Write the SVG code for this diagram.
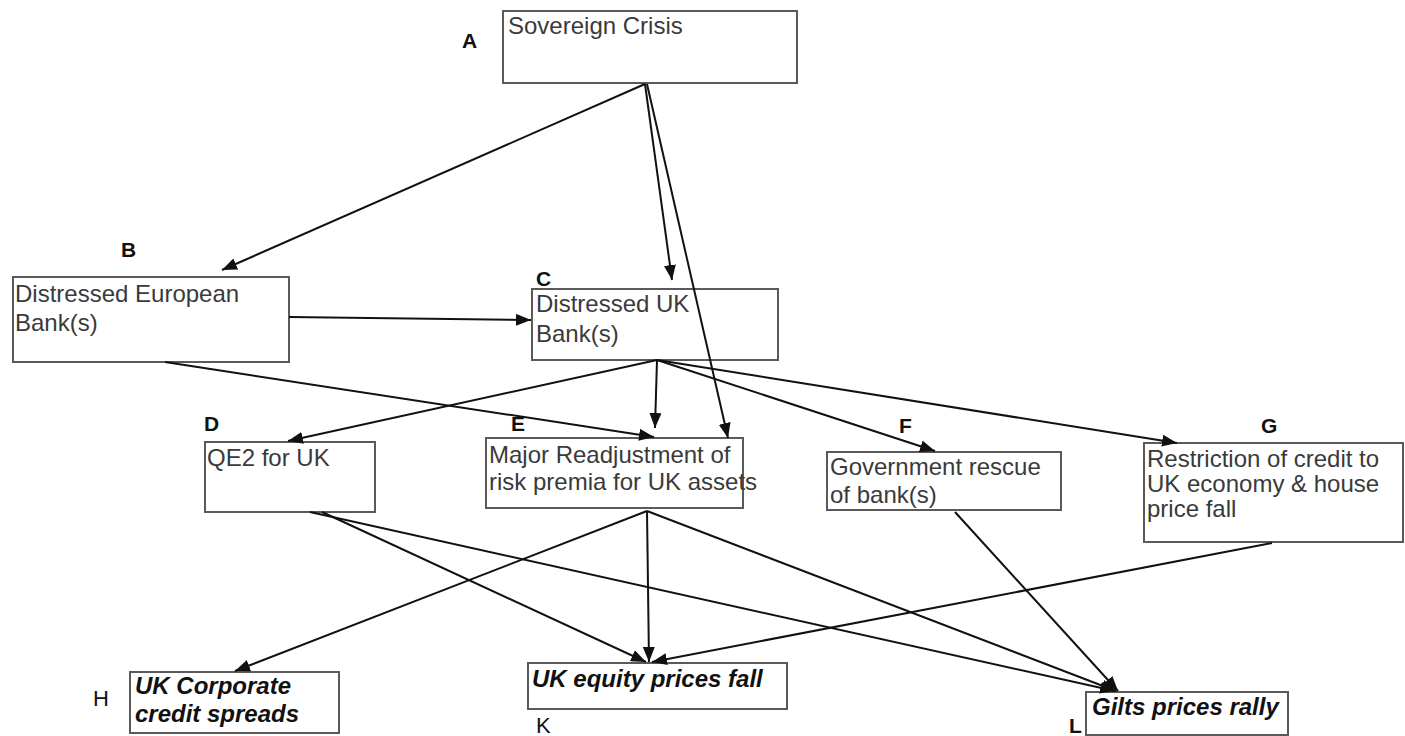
<svg xmlns="http://www.w3.org/2000/svg" width="1405" height="736" viewBox="0 0 1405 736">
<style>
.box{fill:#fff;stroke:#5a5a5a;stroke-width:2}
.t{font-family:"Liberation Sans",Arial,sans-serif;font-size:24px;fill:#3a3a3a}
.bt{font-family:"Liberation Sans",Arial,sans-serif;font-size:24px;font-weight:bold;font-style:italic;fill:#111}
.lb{font-family:"Liberation Sans",Arial,sans-serif;font-size:21px;font-weight:bold;fill:#111}
.ln{font-family:"Liberation Sans",Arial,sans-serif;font-size:22px;fill:#111}
.c{stroke:#111;stroke-width:2;fill:none;marker-end:url(#ah)}
</style>
<defs>
<marker id="ah" markerUnits="userSpaceOnUse" markerWidth="16" markerHeight="12" refX="15" refY="6" orient="auto">
<path d="M0,0 L15,6 L0,12 Z" fill="#111"/>
</marker>
</defs>
<rect width="1405" height="736" fill="#fff"/>
<g id="A">
<rect class="box" x="503" y="11" width="294" height="72"/>
<text class="t" x="508" y="34">Sovereign Crisis</text>
<text class="lb" x="462" y="48">A</text>
</g>
<g id="B">
<rect class="box" x="13" y="277" width="276" height="85"/>
<text class="t" x="15" y="302">Distressed European</text>
<text class="t" x="15" y="331">Bank(s)</text>
<text class="lb" x="121" y="257">B</text>
</g>
<g id="C">
<rect class="box" x="532" y="289" width="246" height="71"/>
<text class="t" x="536" y="312">Distressed UK</text>
<text class="t" x="536" y="342">Bank(s)</text>
<text class="lb" x="536" y="286">C</text>
</g>
<g id="D">
<rect class="box" x="205" y="442" width="170" height="70"/>
<text class="t" x="207" y="466">QE2 for UK</text>
<text class="lb" x="204" y="431">D</text>
</g>
<g id="E">
<rect class="box" x="486" y="438" width="257" height="70"/>
<text class="t" x="489" y="463">Major Readjustment of</text>
<text class="t" x="489" y="490">risk premia for UK assets</text>
<text class="lb" x="511" y="431">E</text>
</g>
<g id="F">
<rect class="box" x="827" y="452" width="234" height="58"/>
<text class="t" x="830" y="475">Government rescue</text>
<text class="t" x="830" y="503">of bank(s)</text>
<text class="lb" x="899" y="433">F</text>
</g>
<g id="G">
<rect class="box" x="1144" y="443" width="259" height="99"/>
<text class="t" x="1147" y="467">Restriction of credit to</text>
<text class="t" x="1147" y="492">UK economy &amp; house</text>
<text class="t" x="1147" y="517">price fall</text>
<text class="lb" x="1261" y="433">G</text>
</g>
<g id="H">
<rect class="box" x="130" y="672" width="209" height="61"/>
<text class="bt" x="135" y="694">UK Corporate</text>
<text class="bt" x="135" y="722">credit spreads</text>
<text class="ln" x="93" y="706">H</text>
</g>
<g id="K">
<rect class="box" x="528" y="663" width="259" height="46"/>
<text class="bt" x="532" y="687">UK equity prices fall</text>
<text class="ln" x="536" y="733">K</text>
</g>
<g id="L">
<rect class="box" x="1086" y="692" width="202" height="43"/>
<text class="bt" x="1092" y="715">Gilts prices rally</text>
<text class="lb" x="1069" y="733">L</text>
</g>
<g id="connectors">
<line class="c" x1="645" y1="84" x2="222" y2="270"/>
<line class="c" x1="645" y1="84" x2="672" y2="280"/>
<line class="c" x1="647" y1="84" x2="728" y2="438"/>
<line class="c" x1="289" y1="317" x2="531" y2="320"/>
<line class="c" x1="165" y1="362" x2="654" y2="437"/>
<line class="c" x1="657" y1="360" x2="288" y2="441"/>
<line class="c" x1="657" y1="360" x2="655" y2="428"/>
<line class="c" x1="657" y1="360" x2="935" y2="451"/>
<line class="c" x1="657" y1="360" x2="1177" y2="443"/>
<line class="c" x1="322" y1="512" x2="646" y2="662"/>
<line class="c" x1="310" y1="512" x2="1115" y2="691"/>
<line class="c" x1="647" y1="511" x2="235" y2="671"/>
<line class="c" x1="647" y1="511" x2="649" y2="662"/>
<line class="c" x1="647" y1="511" x2="1116" y2="691"/>
<line class="c" x1="955" y1="512" x2="1118" y2="691"/>
<line class="c" x1="1272" y1="543" x2="652" y2="662"/>
</g>
</svg>
